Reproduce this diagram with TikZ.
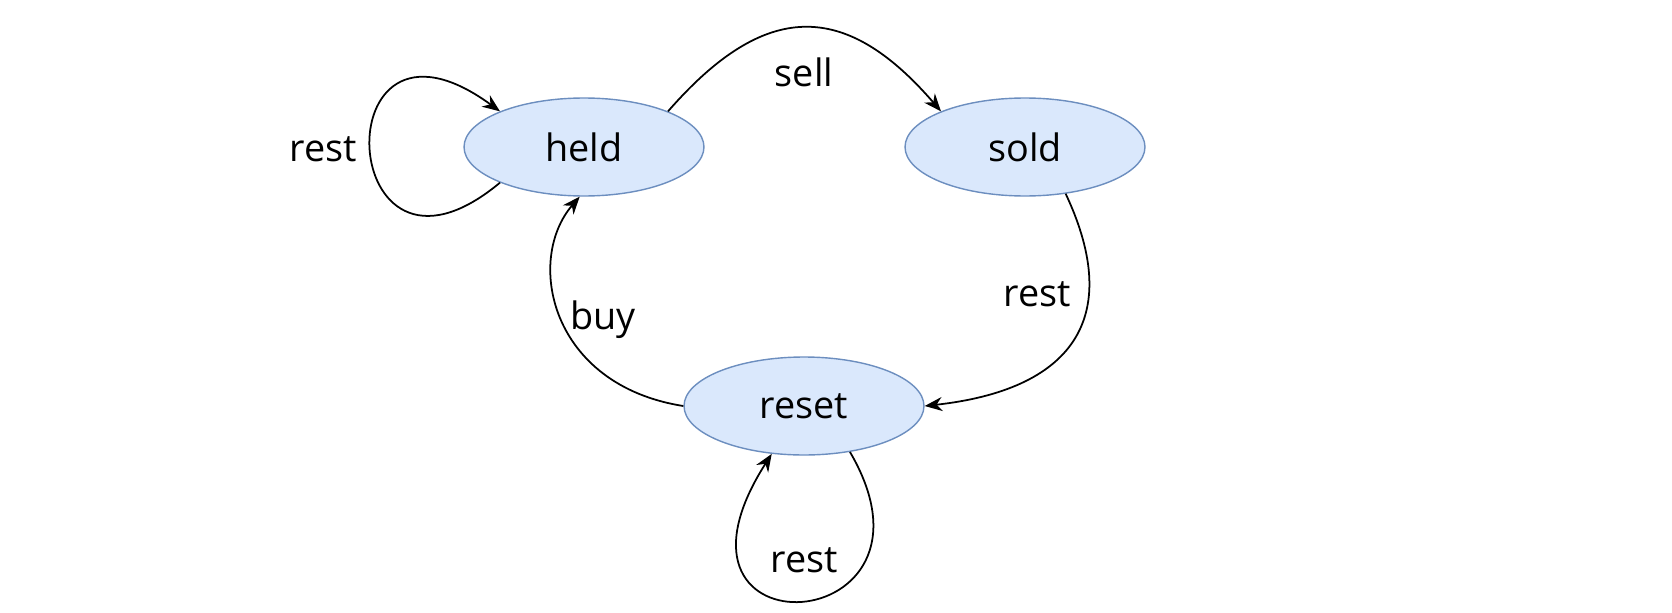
\documentclass[tikz,border=0pt]{standalone}
\usepackage{fontspec}
\setmainfont{Open Sans}
\usepackage{tikz}
\usetikzlibrary{arrows.meta, shapes.geometric}
\definecolor{estadoFill}{HTML}{DAE8FC}
\definecolor{estadoBorde}{HTML}{6C8EBF}
\tikzset{
  estado/.style={ellipse, draw=estadoBorde, fill=estadoFill, line width=0.8pt,
    minimum width=4.8cm, minimum height=1.96cm, inner sep=0pt},
  trans/.style={-{Stealth[length=10pt, width=8pt]}, line width=1pt},
  etiqueta/.style={font=\fontsize{21.5}{26}\selectfont}
}
\begin{document}
\begin{tikzpicture}[x=0.02cm, y=-0.02cm, font=\fontsize{21.5}{26}\selectfont]
        % Marco
        \useasboundingbox (0,0) rectangle (1672,612);
        % Estados
        \node[estado] (held) at (584,147) {held};
        \node[estado] (sold) at (1025,147) {sold};
        \node[estado] (reset) at (804,406) {reset};
        % Lazo en held
        \draw[trans] (held.203) .. controls (335,320) and (320,-20) .. (held.157);
        \node[etiqueta] (restHeld) at (323,149) {rest};
        % held -> sold
        \draw[trans] (held.23) .. controls (765,0) and (845,0) .. (sold.157);
        \node[etiqueta] (sell) at (804,72) {sell};
        % sold -> reset
        \draw[trans] (sold.311) .. controls (1125,320) and (1070,390) .. (reset.east);
        \node[etiqueta] (restSold) at (1037,294) {rest};
        % reset -> held
        \draw[trans] (reset.west) .. controls (550,385) and (525,260) .. (held.265);
        \node[etiqueta] (buy) at (603,320) {buy};
        % Lazo en reset
        \draw[trans] (reset.315) .. controls (960,640) and (640,660) .. (reset.236);
        \node[etiqueta] (restReset) at (804,560) {rest};
      \end{tikzpicture}
\end{document}
